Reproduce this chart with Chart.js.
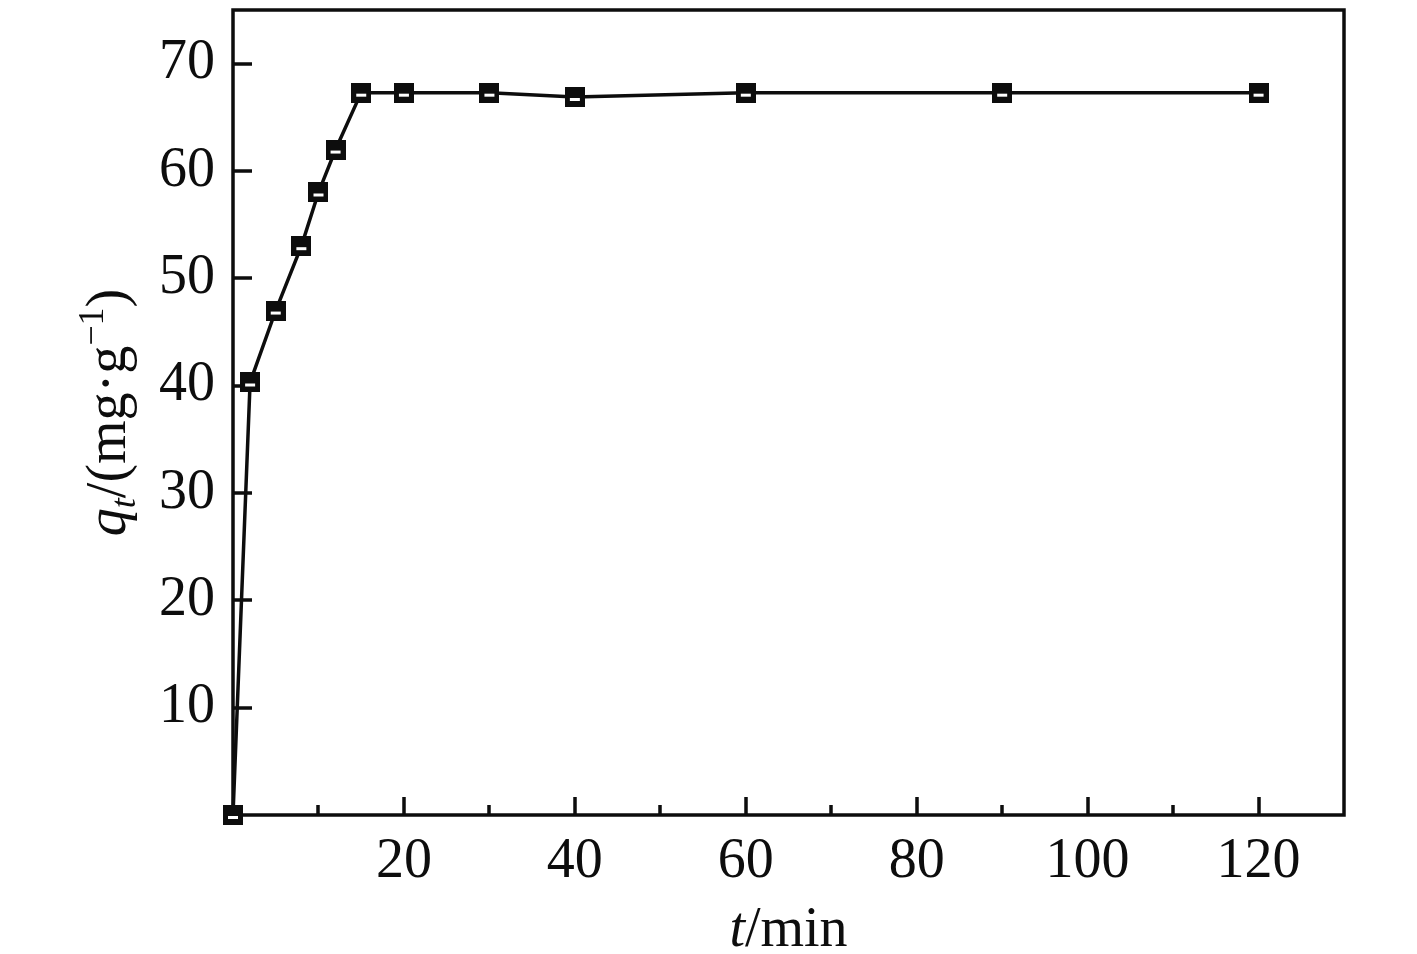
<!DOCTYPE html>
<html>
<head>
<meta charset="utf-8">
<script src="https://cdn.jsdelivr.net/npm/chart.js@4/dist/chart.umd.min.js"></script>
<style>
  html, body { margin: 0; padding: 0; background: #fff; }
  #wrap { width: 1417px; height: 954px; }
</style>
</head>
<body>
<div id="wrap"><canvas id="kineticsChart" width="1417" height="954"></canvas></div>
<script>
// Datos de adsorción (tiempo en min, qt en mg/g)
const times = [0, 2, 5, 8, 10, 12, 15, 20, 30, 40, 60, 90, 120];
const qt = [0, 40.3, 47, 53, 58, 62, 67.3, 67.3, 67.3, 66.9, 67.3, 67.3, 67.3];
const xTickLabels = [20, 40, 60, 80, 100, 120];
const xMinorTicks = [10, 30, 50, 70, 90, 110];
const yTickLabels = [10, 20, 30, 40, 50, 60, 70];

const ink = '#0d0d0d';
const serif = '"Liberation Serif", "DejaVu Serif", serif';

// marcador: cuadrado negro con una raya blanca abajo
const marker = document.createElement('canvas');
marker.width = 20;
marker.height = 20;
const mctx = marker.getContext('2d');
mctx.fillStyle = ink;
mctx.fillRect(0, 0, 20, 20);
mctx.fillStyle = '#fff';
mctx.fillRect(5, 11, 10, 3);

// marco y marcas hacia dentro
const framePlugin = {
    id: 'frame',
    beforeDatasetsDraw(chart) {
        const ctx = chart.ctx;
        const a = chart.chartArea;
        const xs = chart.scales.x, ys = chart.scales.y;
        ctx.save();
        ctx.strokeStyle = ink;
        ctx.lineWidth = 3.5;
        ctx.strokeRect(a.left, a.top, a.right - a.left, a.bottom - a.top);
        ctx.beginPath();
        xTickLabels.forEach(v => {
            const px = Math.round(xs.getPixelForValue(v));
            ctx.moveTo(px, a.bottom);
            ctx.lineTo(px, a.bottom - 18);
        });
        xMinorTicks.forEach(v => {
            const px = Math.round(xs.getPixelForValue(v));
            ctx.moveTo(px, a.bottom);
            ctx.lineTo(px, a.bottom - 10);
        });
        yTickLabels.forEach(v => {
            const py = Math.round(ys.getPixelForValue(v));
            ctx.moveTo(a.left, py);
            ctx.lineTo(a.left + 19, py);
        });
        ctx.stroke();
        ctx.restore();
    },
    afterDraw(chart) {
        const ctx = chart.ctx;
        const a = chart.chartArea;
        ctx.save();
        ctx.fillStyle = ink;
        ctx.textBaseline = 'alphabetic';

        // título eje x: t/min
        const big = '56px ' + serif;
        const bigIt = 'italic 56px ' + serif;
        ctx.font = bigIt;
        const wt = ctx.measureText('t').width;
        ctx.font = big;
        const wm = ctx.measureText('/min').width;
        let x0 = (a.left + a.right) / 2 - (wt + wm) / 2;
        ctx.textAlign = 'left';
        ctx.font = bigIt;
        ctx.fillText('t', x0, 946);
        ctx.font = big;
        ctx.fillText('/min', x0 + wt, 946);

        // título eje y: qt/(mg·g-1)
        const small = '36px ' + serif;
        const smallIt = 'italic 36px ' + serif;
        const parts = [
            { t: 'q', f: bigIt, dy: 0 },
            { t: 't', f: smallIt, dy: 10 },
            { t: '/(mg\u00b7g', f: big, dy: 0 },
            { t: '\u22121', f: small, dy: -22 },
            { t: ')', f: big, dy: 0 }
        ];
        let total = 0;
        parts.forEach(p => { ctx.font = p.f; p.w = ctx.measureText(p.t).width; total += p.w; });
        ctx.translate(125, (a.top + a.bottom) / 2);
        ctx.rotate(-Math.PI / 2);
        let cx = -total / 2;
        parts.forEach(p => {
            ctx.font = p.f;
            ctx.fillText(p.t, cx, p.dy);
            cx += p.w;
        });
        ctx.restore();
    }
};

const ctxKinetics = document.getElementById('kineticsChart').getContext('2d');
const kineticsChart = new Chart(ctxKinetics, {
    type: 'scatter',
    data: {
        datasets: [{
            label: 'qt',
            data: times.map((t, i) => ({ x: t, y: qt[i] })),
            showLine: true,
            borderColor: ink,
            borderWidth: 3.5,
            pointStyle: marker,
            pointRadius: 10,
            clip: false
        }]
    },
    options: {
        responsive: false,
        animation: false,
        events: [],
        layout: { autoPadding: false, padding: { top: 10, right: 73, left: 0, bottom: 0 } },
        plugins: {
            legend: { display: false },
            tooltip: { enabled: false }
        },
        scales: {
            x: {
                type: 'linear',
                min: 0,
                max: 130,
                afterBuildTicks: s => { s.ticks = xTickLabels.map(v => ({ value: v })); },
                afterFit: s => { s.height = 139; s.paddingLeft = 0; s.paddingRight = 0; },
                grid: { display: false, drawTicks: false },
                border: { display: false },
                ticks: { color: ink, padding: 14, maxRotation: 0, font: { family: serif, size: 56 } }
            },
            y: {
                min: 0,
                max: 75,
                afterBuildTicks: s => { s.ticks = yTickLabels.map(v => ({ value: v })); },
                afterFit: s => { s.width = 233; s.paddingTop = 0; s.paddingBottom = 0; },
                grid: { display: false, drawTicks: false },
                border: { display: false },
                ticks: { color: ink, padding: 18, font: { family: serif, size: 56 } }
            }
        }
    },
    plugins: [framePlugin]
});
</script>
</body>
</html>
